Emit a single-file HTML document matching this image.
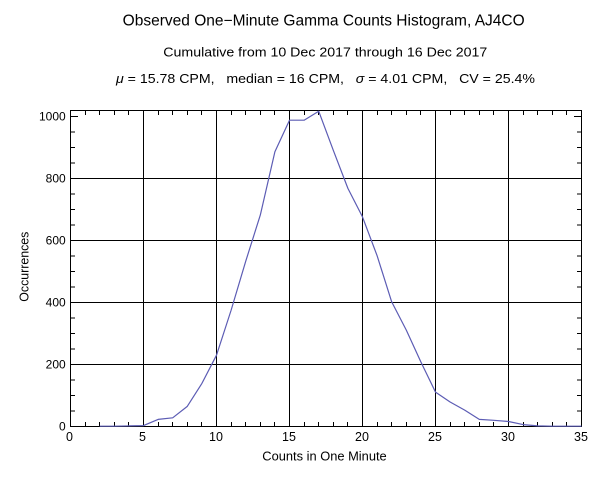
<!DOCTYPE html>
<html>
<head>
<meta charset="utf-8">
<style>
  html, body { margin: 0; padding: 0; background: #ffffff; }
  svg { display: block; }
  text { font-family: "Liberation Sans", "DejaVu Sans", sans-serif; fill: #000; }
</style>
</head>
<body>
<svg width="600" height="485" viewBox="0 0 600 485" xmlns="http://www.w3.org/2000/svg">
  <rect x="0" y="0" width="600" height="485" fill="#ffffff"/>

  <!-- Titles -->
  <text x="122.7" y="25.5" font-size="15.5" textLength="402" lengthAdjust="spacingAndGlyphs">Observed One&#8722;Minute Gamma Counts Histogram, AJ4CO</text>
  <text x="163.3" y="56.5" font-size="13" textLength="324" lengthAdjust="spacingAndGlyphs">Cumulative from 10 Dec 2017 through 16 Dec 2017</text>
  <text x="116" y="83" font-size="13" textLength="419" lengthAdjust="spacingAndGlyphs" xml:space="preserve"><tspan font-style="italic">μ</tspan> = 15.78 CPM,   median = 16 CPM,   <tspan font-style="italic">σ</tspan> = 4.01 CPM,   CV = 25.4%</text>

  <!-- Grid lines -->
  <g stroke="#000" stroke-width="1" shape-rendering="crispEdges">
    <line x1="143.5" y1="110" x2="143.5" y2="427"/>
    <line x1="216.5" y1="110" x2="216.5" y2="427"/>
    <line x1="289.5" y1="110" x2="289.5" y2="427"/>
    <line x1="362.5" y1="110" x2="362.5" y2="427"/>
    <line x1="435.5" y1="110" x2="435.5" y2="427"/>
    <line x1="508.5" y1="110" x2="508.5" y2="427"/>
    <line x1="70" y1="178.5" x2="582" y2="178.5"/>
    <line x1="70" y1="240.5" x2="582" y2="240.5"/>
    <line x1="70" y1="302.5" x2="582" y2="302.5"/>
    <line x1="70" y1="364.5" x2="582" y2="364.5"/>
    <!-- frame -->
    <rect x="70.5" y="110.5" width="511" height="316" fill="none"/>
  </g>

  <!-- Minor ticks -->
  <g stroke="#000" stroke-width="1" shape-rendering="crispEdges">
    <!-- x ticks bottom & top -->
    <path d="
      M85.5 426v-4 M99.5 426v-4 M114.5 426v-4 M128.5 426v-4
      M158.5 426v-4 M172.5 426v-4 M187.5 426v-4 M201.5 426v-4
      M231.5 426v-4 M245.5 426v-4 M260.5 426v-4 M274.5 426v-4
      M304.5 426v-4 M318.5 426v-4 M333.5 426v-4 M347.5 426v-4
      M377.5 426v-4 M391.5 426v-4 M406.5 426v-4 M420.5 426v-4
      M450.5 426v-4 M464.5 426v-4 M479.5 426v-4 M493.5 426v-4
      M523.5 426v-4 M537.5 426v-4 M552.5 426v-4 M566.5 426v-4
      M85.5 111v4 M99.5 111v4 M114.5 111v4 M128.5 111v4
      M158.5 111v4 M172.5 111v4 M187.5 111v4 M201.5 111v4
      M231.5 111v4 M245.5 111v4 M260.5 111v4 M274.5 111v4
      M304.5 111v4 M318.5 111v4 M333.5 111v4 M347.5 111v4
      M377.5 111v4 M391.5 111v4 M406.5 111v4 M420.5 111v4
      M450.5 111v4 M464.5 111v4 M479.5 111v4 M493.5 111v4
      M523.5 111v4 M537.5 111v4 M552.5 111v4 M566.5 111v4
    "/>
    <!-- y ticks left & right -->
    <path d="
      M71 411h4 M71 395.5h4 M71 380h4
      M71 349h4 M71 333.5h4 M71 318h4
      M71 287h4 M71 271.5h4 M71 256h4
      M71 225h4 M71 209.5h4 M71 194h4
      M71 163h4 M71 147.5h4 M71 132h4
      M71 116.5h7
      M581 411h-4 M581 395.5h-4 M581 380h-4
      M581 349h-4 M581 333.5h-4 M581 318h-4
      M581 287h-4 M581 271.5h-4 M581 256h-4
      M581 225h-4 M581 209.5h-4 M581 194h-4
      M581 163h-4 M581 147.5h-4 M581 132h-4
      M581 116.5h-7
    "/>
  </g>

  <!-- Data series -->
  <polyline fill="none" stroke="#5c5cb4" stroke-width="1.2" stroke-linejoin="round"
    points="99.7,426.2 114.3,426.2 128.9,425.9 143.5,425.6 158.1,419.4 172.7,417.8 187.3,406.35 201.9,383.4 216.5,355.2 231.1,310.25 245.7,261.3 260.3,215.1 274.9,151.8 289.5,120.2 304.1,120.2 318.7,111.2 333.3,150.3 347.9,188.4 362.5,216.9 377.1,255.7 391.7,301.9 406.3,330.1 420.9,362.0 435.5,392.1 450.1,402.0 464.7,410.1 479.3,419.4 493.9,420.3 508.5,421.5 523.1,424.6 537.7,425.9 552.3,426.2 566.9,426.2 581.5,426.2"/>

  <!-- Y tick labels -->
  <g font-size="12" text-anchor="end">
    <text x="65.7" y="120.3">1000</text>
    <text x="65.7" y="182.3">800</text>
    <text x="65.7" y="244.3">600</text>
    <text x="65.7" y="306.3">400</text>
    <text x="65.7" y="368.3">200</text>
    <text x="65.7" y="430.3">0</text>
  </g>

  <!-- X tick labels -->
  <g font-size="12.5" text-anchor="middle">
    <text x="69.5" y="441">0</text>
    <text x="142.5" y="441">5</text>
    <text x="216" y="441">10</text>
    <text x="289" y="441">15</text>
    <text x="362" y="441">20</text>
    <text x="435" y="441">25</text>
    <text x="508" y="441">30</text>
    <text x="581" y="441">35</text>
  </g>

  <!-- Axis labels -->
  <text x="262.3" y="460.5" font-size="13" textLength="124.4" lengthAdjust="spacingAndGlyphs">Counts in One Minute</text>
  <text transform="translate(28.3,301.7) rotate(-90)" x="0" y="0" font-size="12.5" textLength="70" lengthAdjust="spacingAndGlyphs">Occurrences</text>
</svg>
</body>
</html>
